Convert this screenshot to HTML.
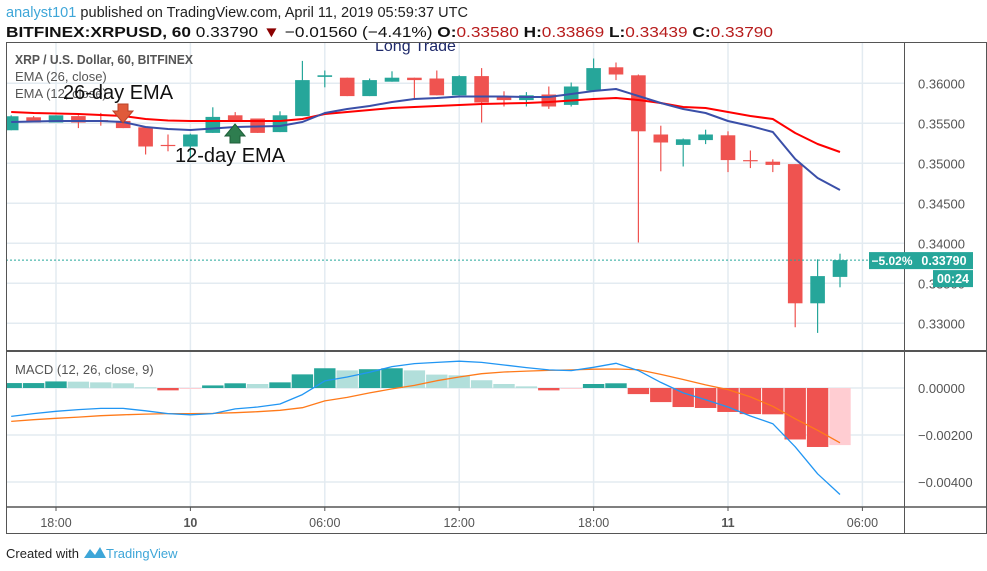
<!DOCTYPE html>
<html><head><meta charset="utf-8">
<style>
html,body{margin:0;padding:0;background:#fff;}
svg{display:block;font-family:"Liberation Sans",sans-serif;}
</style></head>
<body>
<svg id="c" width="987" height="571" viewBox="0 0 987 571" xmlns="http://www.w3.org/2000/svg">
<text x="6" y="17" font-size="14.5" fill="#222" textLength="462" lengthAdjust="spacingAndGlyphs"><tspan fill="#3ea6d8">analyst101</tspan> published on TradingView.com, April 11, 2019 05:59:37 UTC</text>
<text x="6" y="37" font-size="15" fill="#111" textLength="767" lengthAdjust="spacingAndGlyphs"><tspan font-weight="bold">BITFINEX:XRPUSD, 60</tspan> 0.33790 <tspan fill="#8b0000">▼</tspan> −0.01560 (−4.41%) <tspan font-weight="bold">O:</tspan><tspan fill="#b71c1c">0.33580</tspan> <tspan font-weight="bold">H:</tspan><tspan fill="#b71c1c">0.33869</tspan> <tspan font-weight="bold">L:</tspan><tspan fill="#b71c1c">0.33439</tspan> <tspan font-weight="bold">C:</tspan><tspan fill="#b71c1c">0.33790</tspan></text>
<g id="grid"></g>
<g id="main"></g>
<g id="macd"></g>
<g id="frame">
<rect x="6.5" y="42.5" width="980" height="491" fill="none" stroke="#555" stroke-width="1"/>
<line x1="6" y1="351" x2="987" y2="351" stroke="#555" stroke-width="2"/>
<line x1="6" y1="507" x2="987" y2="507" stroke="#555" stroke-width="1.5"/>
<line x1="904.5" y1="42" x2="904.5" y2="534" stroke="#555" stroke-width="1"/>
</g>
<clipPath id="topclip"><rect x="6" y="43" width="898" height="20"/></clipPath>
<text x="375" y="51" font-size="16" fill="#1f2a6b" clip-path="url(#topclip)">Long Trade</text>
<text x="15" y="64" font-size="13" font-weight="bold" fill="#555" textLength="178" lengthAdjust="spacingAndGlyphs">XRP / U.S. Dollar, 60, BITFINEX</text>
<text x="15" y="81" font-size="13" fill="#555">EMA (26, close)</text>
<text x="15" y="98" font-size="13" fill="#555">EMA (12, close)</text>
<text x="63" y="99" font-size="20" fill="#111">26-day EMA</text>
<text x="175" y="162" font-size="20" fill="#111">12-day EMA</text>
<path d="M118 104 h10 v7 h5 l-10 12 l-10 -12 h5 z" fill="#e05a3a" stroke="#b8432a"/>
<path d="M235 124 l10 12 h-5 v7 h-10 v-7 h-5 z" fill="#2e7d4f" stroke="#1e5e38"/>
<text x="15" y="374" font-size="13" fill="#555">MACD (12, 26, close, 9)</text>
<text x="6" y="558" font-size="13" fill="#222">Created with</text>
<path d="M84 558 l6 -9 l5 6 l5 -8 l6 11 z" fill="#3ea6d8"/>
<text x="106" y="558" font-size="13" fill="#3ea6d8">TradingView</text>
</svg>
<script>
var opens =[0.35413,0.35575,0.3551,0.3559,0.3554,0.3553,0.3545,0.3523,0.3521,0.3538,0.3560,0.3556,0.3539,0.3559,0.3608,0.3607,0.3584,0.3602,0.3607,0.3606,0.3585,0.3609,0.3584,0.3579,0.3586,0.3573,0.3591,0.3620,0.3610,0.3536,0.3523,0.3529,0.3535,0.3504,0.3502,0.3499,0.3325,0.3358];
var highs =[0.35600,0.3559,0.3560,0.3560,0.3563,0.3555,0.3545,0.3536,0.3537,0.3570,0.3564,0.3556,0.3565,0.3628,0.3616,0.3607,0.3606,0.3615,0.3607,0.3616,0.3610,0.3619,0.3590,0.3589,0.3596,0.3601,0.3631,0.3626,0.3611,0.3547,0.3531,0.3542,0.3540,0.3516,0.3505,0.3499,0.3380,0.3387];
var lows  =[0.35413,0.3551,0.3551,0.3544,0.3547,0.3544,0.3511,0.3515,0.3508,0.3538,0.3552,0.3538,0.3539,0.3559,0.3595,0.3584,0.3584,0.3602,0.3581,0.3585,0.3585,0.3551,0.3571,0.3571,0.3568,0.3571,0.3591,0.3604,0.3401,0.3490,0.3496,0.3524,0.3489,0.3494,0.3489,0.3295,0.3288,0.3345];
var closes=[0.35588,0.3551,0.3560,0.3551,0.3553,0.3544,0.3521,0.3522,0.3536,0.3558,0.3552,0.3538,0.3560,0.3604,0.3610,0.3584,0.3604,0.3607,0.3604,0.3585,0.3609,0.3576,0.3579,0.3585,0.3571,0.3596,0.3619,0.3611,0.3540,0.3526,0.3530,0.3536,0.3504,0.3503,0.3498,0.3325,0.3359,0.3379];
var ema12=[0.35516,0.35522,0.35529,0.35529,0.35529,0.35516,0.35454,0.35429,0.35416,0.35435,0.35454,0.3546,0.35466,0.35516,0.35629,0.35679,0.35716,0.35766,0.35804,0.35816,0.35835,0.35835,0.35835,0.35829,0.35829,0.35866,0.35904,0.35929,0.35841,0.35754,0.35679,0.35629,0.35529,0.35466,0.35391,0.35054,0.34816,0.34666];
var ema26=[0.35641,0.35629,0.35622,0.35616,0.35604,0.35591,0.35554,0.35535,0.35529,0.35529,0.35529,0.35529,0.35529,0.35554,0.35616,0.35641,0.35666,0.35691,0.35704,0.35716,0.35729,0.35741,0.35748,0.35754,0.35766,0.35785,0.35804,0.35816,0.35791,0.35754,0.35704,0.35691,0.35641,0.35591,0.35554,0.35379,0.35241,0.35141];
var macdLine=[-0.00121,-0.00109,-0.00099,-0.00092,-0.00087,-0.00087,-0.00097,-0.00109,-0.00114,-0.00109,-0.00089,-0.00081,-0.00068,-0.00028,0.0003,0.00047,0.00067,0.00091,0.00104,0.00109,0.00114,0.00109,0.00098,0.00087,0.00077,0.00074,0.00088,0.00105,0.00074,0.00024,-0.00021,-0.0005,-0.00081,-0.00119,-0.00152,-0.0025,-0.00365,-0.00453];
var signalLine=[-0.00142,-0.00135,-0.00129,-0.00124,-0.00118,-0.00114,-0.00111,-0.00109,-0.00109,-0.00108,-0.00105,-0.00101,-0.00095,-0.00084,-0.00055,-0.0004,-0.00021,-0.00004,0.00011,0.00031,0.00047,0.00061,0.00068,0.00072,0.00075,0.00077,0.0008,0.00081,0.00078,0.00058,0.00036,0.00013,-0.00007,-0.00038,-0.00078,-0.00131,-0.0018,-0.00233];
var hist=[0.00021,0.00021,0.00028,0.00027,0.00024,0.0002,0.00003,-0.0001,-0.00004,0.00011,0.0002,0.00017,0.00024,0.00058,0.00084,0.00075,0.0008,0.00084,0.00075,0.00057,0.00054,0.00033,0.00017,0.00007,-0.0001,-0.00001,0.00017,0.0002,-0.00026,-0.0006,-0.00081,-0.00085,-0.00102,-0.00111,-0.00112,-0.00219,-0.00251,-0.00243];
var priceTicks=[0.36,0.355,0.35,0.345,0.34,0.335,0.33];
var macdTicks=[0,-0.002,-0.004];
var timeLabels=["18:00","10","06:00","12:00","18:00","11","06:00"];
var timeHours=[2,8,14,20,26,32,38];
var lastPrice=0.3379;

var NS="http://www.w3.org/2000/svg";
function xAt(i){return 11.2+22.4*i;}
function yP(p){return 83.3+(0.36-p)*8000;}
function yM(v){return 388+(0-v)*23500;}
function el(tag,attrs,parent){var e=document.createElementNS(NS,tag);for(var k in attrs)e.setAttribute(k,attrs[k]);parent.appendChild(e);return e;}
var grid=document.getElementById('grid'),main=document.getElementById('main'),mp=document.getElementById('macd'),svg=document.getElementById('c');

priceTicks.forEach(function(p){
  var y=yP(p);
  var g=el('line',{x1:6,x2:904,y1:y,y2:y,stroke:'#e3ebf1','stroke-width':1.5},grid);
  
  
  var t=el('text',{x:918,y:y+5,'font-size':13,fill:'#555'},svg);
  t.textContent=p.toFixed(5);
  
  
});
macdTicks.forEach(function(v){
  var y=yM(v);
  var g=el('line',{x1:6,x2:904,y1:y,y2:y,stroke:'#e3ebf1','stroke-width':1.5},grid);
  
  
  var t=el('text',{x:918,y:y+5,'font-size':13,fill:'#555'},svg);
  t.textContent=(v===0?'0.00000':'\u2212'+Math.abs(v).toFixed(5));
  
  
});
timeLabels.forEach(function(lbl,k){
  var x=xAt(timeHours[k]);
  var g=el('line',{x1:x,x2:x,y1:43,y2:507,stroke:'#e3ebf1','stroke-width':1.5},grid);
  
  
  var tk=el('line',{x1:x,x2:x,y1:507,y2:511,stroke:'#555'},svg);
  
  
  var t=el('text',{x:x,y:527,'font-size':12.5,fill:'#555','text-anchor':'middle','font-weight':(lbl.length<=2?'bold':'normal')},svg);
  t.textContent=lbl;
  
  
});

hist.forEach(function(v,i){
  var prev=i>0?hist[i-1]:v;
  var col=v>=0?(v>=prev?'#26a69a':'#b2dfdb'):(v<prev?'#ef5350':'#ffcdd2');
  var y0=yM(0),y1=yM(v);
  var left=xAt(i)-10.7,w=21.4;
  if(left<7){w-=7-left;left=7;}
  var r=el('rect',{x:left,y:Math.min(y0,y1),width:w,height:Math.max(1,Math.abs(y1-y0)),fill:col},mp);
  
  
});
function line(arr,fy,color,w,parent,name){
  var d=arr.map(function(v,i){return (i?'L':'M')+Math.max(7,xAt(i)).toFixed(1)+' '+fy(v).toFixed(1);}).join(' ');
  var p=el('path',{d:d,fill:'none',stroke:color,'stroke-width':w,'stroke-linejoin':'round'},parent);
  
  
}
line(signalLine,yM,'#ff7a1a',1.3,mp,'macd-signal-line');
line(macdLine,yM,'#2196f3',1.3,mp,'macd-line');

opens.forEach(function(o,i){
  var c=closes[i],h=highs[i],l=lows[i],x=xAt(i);
  var col=c>=o?'#26a69a':'#ef5350';
  var g=el('g',{},main);
  
  
  el('line',{x1:x,x2:x,y1:yP(h),y2:yP(l),stroke:col,'stroke-width':1.2},g);
  var top=yP(Math.max(o,c)),bot=yP(Math.min(o,c));
  var left=x-7.3,w=14.6;
  if(left<7){w-=7-left;left=7;}
  el('rect',{x:left,y:top,width:w,height:Math.max(1.2,bot-top),fill:col},g);
});
line(ema26,yP,'#f00',2,main,'ema26-line');
line(ema12,yP,'#3a4fa8',2,main,'ema12-line');

var ly=yP(lastPrice);
var dl=el('line',{x1:6,x2:904,y1:ly,y2:ly,stroke:'#26a69a','stroke-dasharray':'2,2'},main);


var b1=el('rect',{x:869,y:ly-8,width:46,height:17,fill:'#26a69a'},svg);


var t1=el('text',{x:892,y:ly+5,'font-size':12,fill:'#fff','text-anchor':'middle','font-weight':'bold'},svg);
t1.textContent='\u22125.02%';


var b2=el('rect',{x:915,y:ly-8,width:58,height:17,fill:'#26a69a'},svg);


var t2=el('text',{x:944,y:ly+5,'font-size':12.5,fill:'#fff','text-anchor':'middle','font-weight':'bold'},svg);
t2.textContent=lastPrice.toFixed(5);


var b3=el('rect',{x:933,y:ly+10,width:40,height:17,fill:'#26a69a'},svg);


var t3=el('text',{x:953,y:ly+23,'font-size':12.5,fill:'#fff','text-anchor':'middle','font-weight':'bold'},svg);
t3.textContent='00:24';


</script>
</body></html>
